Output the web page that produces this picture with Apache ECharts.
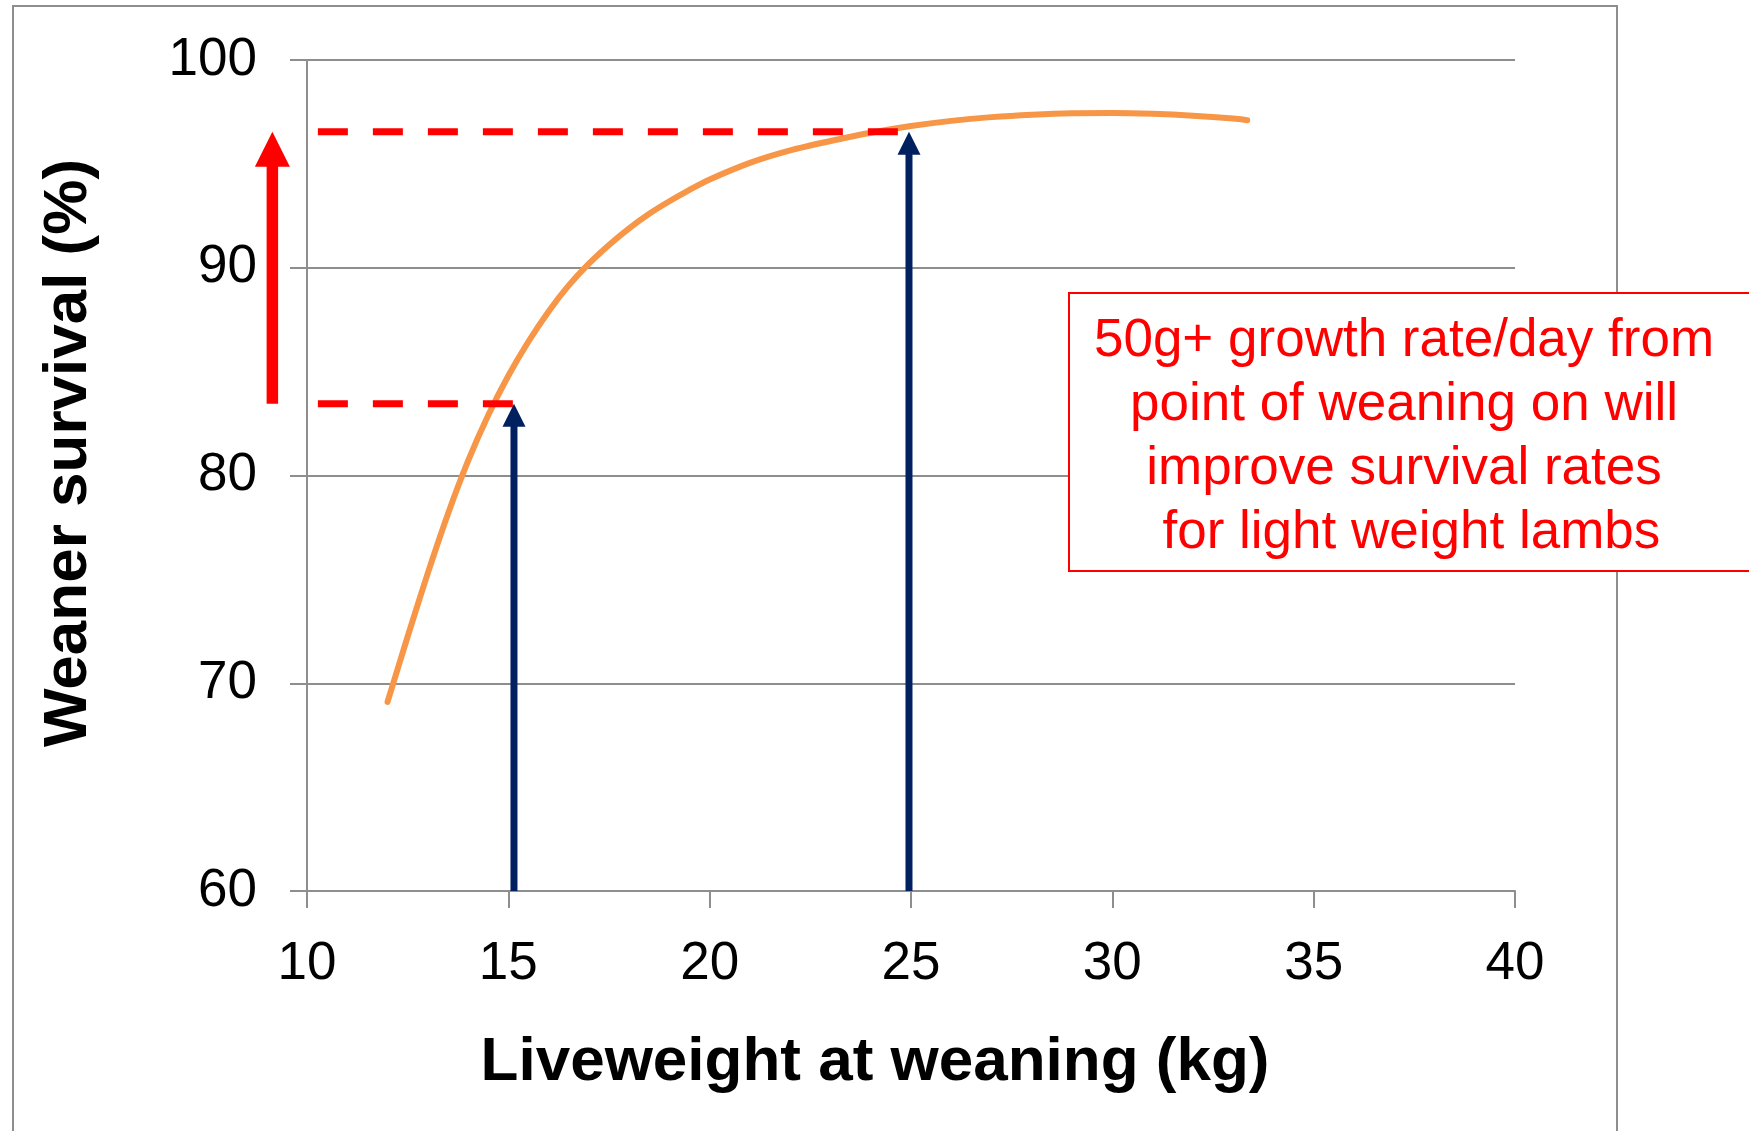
<!DOCTYPE html>
<html>
<head>
<meta charset="utf-8">
<script src="https://cdn.jsdelivr.net/npm/echarts@6/dist/echarts.min.js"></script>
<style>
html,body{margin:0;padding:0;background:#fff;}
#chart{width:1749px;height:1131px;}
</style>
</head>
<body>
<div id="chart"></div>
<script>
// ---- data ----
const weights  = [12, 12.5, 13, 13.5, 14, 14.5, 15, 15.5, 16, 16.5, 17, 17.5, 18, 18.5, 19, 19.5, 20, 21, 22, 23, 24, 25, 26, 27, 28, 29, 30, 31, 32, 33, 33.35];
const survival = [69.1, 72.25, 75.3, 78.15, 80.7, 82.9, 84.8, 86.45, 87.9, 89.15, 90.2, 91.1, 91.9, 92.6, 93.2, 93.75, 94.25, 95.05, 95.65, 96.1, 96.5, 96.82, 97.07, 97.25, 97.37, 97.44, 97.45, 97.41, 97.32, 97.18, 97.1];

const refWeights  = [15.14, 24.95];   // blue arrows / end of dashed lines
const refSurvival = [83.45, 96.55];   // dashed reference levels
const dashStartWeight = 10.27;
const gainArrowWeight = 9.14;        // red arrow, left of the axis

const xTitle = 'Liveweight at weaning (kg)';
const yTitle = 'Weaner survival (%)';
const noteLines = ['50g+ growth rate/day from', 'point of weaning on will', 'improve survival rates', ' for light weight lambs'];

const FONT = '"Liberation Sans", Arial, sans-serif';
const GRID = '#8E8E8E';

const curveData = weights.map((w, i) => [w, survival[i]]);
const dashSeries = refWeights.map((w, i) => ({
  type: 'line',
  data: [[dashStartWeight, refSurvival[i]], [w, refSurvival[i]]],
  showSymbol: false, symbol: 'none', silent: true, z: 3,
  lineStyle: { color: '#FF0000', width: 7, type: [30, 25], cap: 'butt' }
}));

function arrowRenderer(color, shaft, headW, headL) {
  return function (params, api) {
    const x = api.value(0), y0 = api.value(1), y1 = api.value(2);
    const p0 = api.coord([x, y0]);
    const p1 = api.coord([x, y1]);
    return {
      type: 'group',
      children: [
        { type: 'line', shape: { x1: p0[0], y1: p0[1], x2: p1[0], y2: p1[1] + headL - 1 },
          style: { stroke: color, lineWidth: shaft, lineCap: 'butt' } },
        { type: 'polygon', shape: { points: [[p1[0], p1[1]], [p1[0] - headW / 2, p1[1] + headL], [p1[0] + headW / 2, p1[1] + headL]] },
          style: { fill: color } }
      ]
    };
  };
}

const chart = echarts.init(document.getElementById('chart'), null, { renderer: 'canvas' });

const option = {
  animation: false,
  backgroundColor: '#ffffff',
  grid: { left: 307, right: 234, top: 60, bottom: 240, containLabel: false },
  xAxis: {
    type: 'value', min: 10, max: 40, interval: 5,
    axisLine: { show: true, onZero: false, lineStyle: { color: GRID, width: 2 } },
    axisTick: { show: true, length: 17, lineStyle: { color: GRID, width: 2 } },
    axisLabel: { color: '#000', fontSize: 53, fontFamily: FONT, margin: 47 },
    splitLine: { show: false }
  },
  yAxis: {
    type: 'value', min: 60, max: 100, interval: 10,
    axisLine: { show: true, onZero: false, lineStyle: { color: GRID, width: 2 } },
    axisTick: { show: true, length: 17, lineStyle: { color: GRID, width: 2 } },
    axisLabel: { color: '#000', fontSize: 53, fontFamily: FONT, margin: 50 },
    splitLine: { show: true, lineStyle: { color: GRID, width: 2 } }
  },
  series: [
    {
      type: 'line', data: curveData, smooth: 0.3, showSymbol: false, symbol: 'none', z: 2,
      lineStyle: { color: '#F79646', width: 6, cap: 'round', join: 'round' }
    },
    ...dashSeries,
    {
      type: 'custom', clip: false, z: 4,
      data: refWeights.map((w, i) => [w, 60, refSurvival[i]]),
      encode: { x: 0, y: [1, 2] },
      renderItem: arrowRenderer('#002060', 7, 23, 23)
    },
    {
      type: 'custom', clip: false, z: 4,
      data: [[gainArrowWeight, refSurvival[0], refSurvival[1]]],
      encode: { x: 0, y: [1, 2] },
      renderItem: arrowRenderer('#FF0000', 11.5, 35, 35)
    }
  ],
  graphic: [
    { type: 'rect', z: -10, silent: true,
      shape: { x: 13, y: 6, width: 1604, height: 1140 },
      style: { fill: null, stroke: GRID, lineWidth: 2 } },
    { type: 'rect', z: 50, silent: true,
      shape: { x: 1069, y: 293, width: 690, height: 278 },
      style: { fill: '#ffffff', stroke: '#FF0000', lineWidth: 2 } },
    ...noteLines.map((t, i) => ({
      type: 'text', z: 51, silent: true,
      x: 1404, y: 341 + i * 64,
      style: { text: t, fill: '#FF0000', font: '53px ' + FONT, textAlign: 'center', textVerticalAlign: 'middle' }
    })),
    { type: 'text', z: 51, silent: true, x: 875, y: 1063,
      style: { text: xTitle, fill: '#000', font: 'bold 62px ' + FONT, textAlign: 'center', textVerticalAlign: 'middle' } },
    { type: 'text', z: 51, silent: true, x: 69, y: 453, rotation: Math.PI / 2,
      style: { text: yTitle, fill: '#000', font: 'bold 62px ' + FONT, textAlign: 'center', textVerticalAlign: 'middle' } }
  ]
};

chart.setOption(option);
</script>
</body>
</html>
